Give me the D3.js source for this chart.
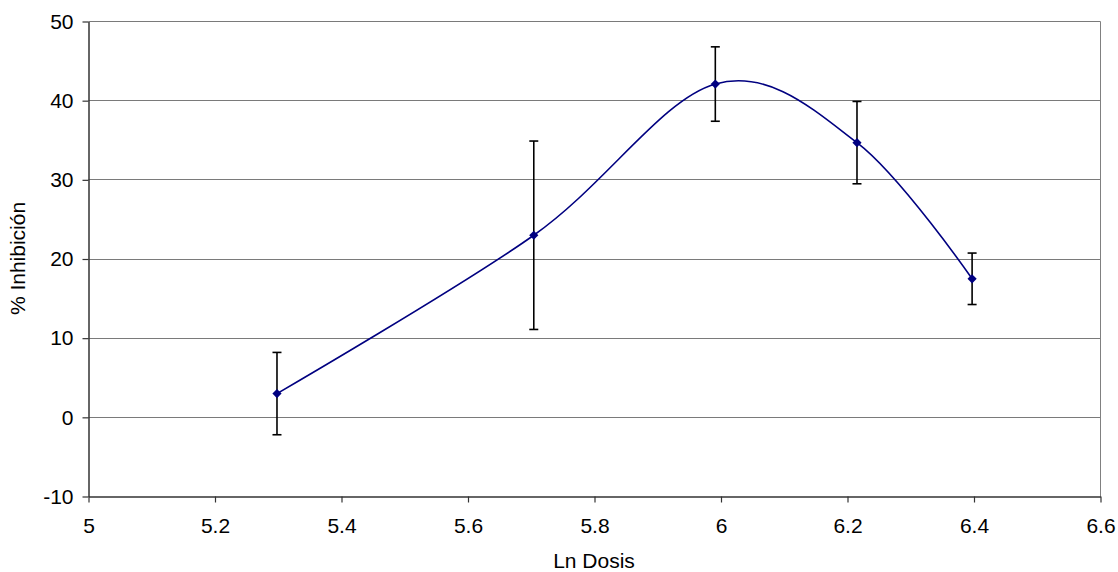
<!DOCTYPE html>
<html>
<head>
<meta charset="utf-8">
<script src="https://cdn.jsdelivr.net/npm/d3@7"></script>
<style>
  body { margin: 0; background: #fff; }
  svg { display: block; font-family: "Liberation Sans", Arial, sans-serif; }
</style>
</head>
<body>
<svg id="chart"></svg>
<script>
// Data
const lnDosis = [5.298, 5.704, 5.991, 6.215, 6.397];
const inhibicion = [3.0, 23.0, 42.1, 34.7, 17.5];
const errorBars = [5.2, 11.9, 4.7, 5.2, 3.25];

const xTicks = [5, 5.2, 5.4, 5.6, 5.8, 6, 6.2, 6.4, 6.6];
const xTickLabels = ["5", "5.2", "5.4", "5.6", "5.8", "6", "6.2", "6.4", "6.6"];
const yTicks = [-10, 0, 10, 20, 30, 40, 50];

// Dimensions
const W = 1118, H = 572;
const margin = { top: 21, right: 18, bottom: 76, left: 88 };
const width = W - margin.left - margin.right;
const height = H - margin.top - margin.bottom;

const svg = d3.select("#chart").attr("width", W).attr("height", H);
const g = svg.append("g").attr("transform", `translate(${margin.left + 0.5},${margin.top + 0.5})`);

const x = d3.scaleLinear().domain([5, 6.6]).range([0, width]);
const y = d3.scaleLinear().domain([-10, 50]).range([height, 0]);

// Horizontal gridlines
g.selectAll(".grid")
  .data(yTicks.filter((d) => d > -10))
  .enter()
  .append("line")
  .attr("x1", 0)
  .attr("x2", width)
  .attr("y1", (d) => Math.round(y(d)))
  .attr("y2", (d) => Math.round(y(d)))
  .attr("stroke", "#7a7a7a")
  .attr("stroke-width", 1);

// Right border of plot area
g.append("line")
  .attr("x1", width)
  .attr("x2", width)
  .attr("y1", 0)
  .attr("y2", height)
  .attr("stroke", "#808080")
  .attr("stroke-width", 1);

// Axes
const xAxis = g.append("g")
  .attr("transform", `translate(0,${height})`)
  .call(d3.axisBottom(x).tickValues(xTicks).tickFormat((d, i) => xTickLabels[i]).tickSize(6).tickPadding(16).tickSizeOuter(0));
const yAxis = g.append("g")
  .call(d3.axisLeft(y).tickValues(yTicks).tickFormat((d) => String(d)).tickSize(6).tickPadding(9).tickSizeOuter(0));

[xAxis, yAxis].forEach((ax) => {
  ax.select(".domain").attr("stroke", "#333").attr("stroke-width", 1.5);
  ax.selectAll(".tick line").attr("stroke", "#333").attr("stroke-width", 1.2);
  ax.selectAll(".tick text")
    .attr("fill", "#000")
    .style("font-size", "21px")
    .style("font-family", "'Liberation Sans', Arial, sans-serif");
});

// Axis titles
svg.append("text")
  .attr("x", margin.left + width / 2)
  .attr("y", 568)
  .attr("text-anchor", "middle")
  .style("font-size", "21px")
  .text("Ln Dosis");

svg.append("text")
  .attr("transform", `translate(25,${margin.top + height / 2}) rotate(-90)`)
  .attr("text-anchor", "middle")
  .style("font-size", "21px")
  .text("% Inhibición");

// Points
const points = lnDosis.map((d, i) => ({ x: d, y: inhibicion[i], err: errorBars[i] }));

// Smoothed line (Catmull-Rom like Excel's smoothing)
const line = d3.line()
  .x((d) => x(d.x))
  .y((d) => y(d.y))
  .curve(d3.curveCardinal.tension(0));

g.append("path")
  .datum(points)
  .attr("d", line)
  .attr("fill", "none")
  .attr("stroke", "#000080")
  .attr("stroke-width", 1.6);

// Error bars
const cap = 4.5;
const eb = g.selectAll(".err").data(points).enter().append("g").attr("class", "err")
  .attr("stroke", "#000").attr("stroke-width", 1.6);
eb.append("line")
  .attr("x1", (d) => x(d.x)).attr("x2", (d) => x(d.x))
  .attr("y1", (d) => y(d.y + d.err)).attr("y2", (d) => y(d.y - d.err));
eb.append("line")
  .attr("x1", (d) => x(d.x) - cap).attr("x2", (d) => x(d.x) + cap)
  .attr("y1", (d) => y(d.y + d.err)).attr("y2", (d) => y(d.y + d.err));
eb.append("line")
  .attr("x1", (d) => x(d.x) - cap).attr("x2", (d) => x(d.x) + cap)
  .attr("y1", (d) => y(d.y - d.err)).attr("y2", (d) => y(d.y - d.err));

// Diamond markers
const r = 4.6;
g.selectAll(".marker")
  .data(points)
  .enter()
  .append("path")
  .attr("class", "marker")
  .attr("d", (d) => {
    const cx = x(d.x), cy = y(d.y);
    return `M${cx},${cy - r}L${cx + r},${cy}L${cx},${cy + r}L${cx - r},${cy}Z`;
  })
  .attr("fill", "#000080");
</script>
</body>
</html>
